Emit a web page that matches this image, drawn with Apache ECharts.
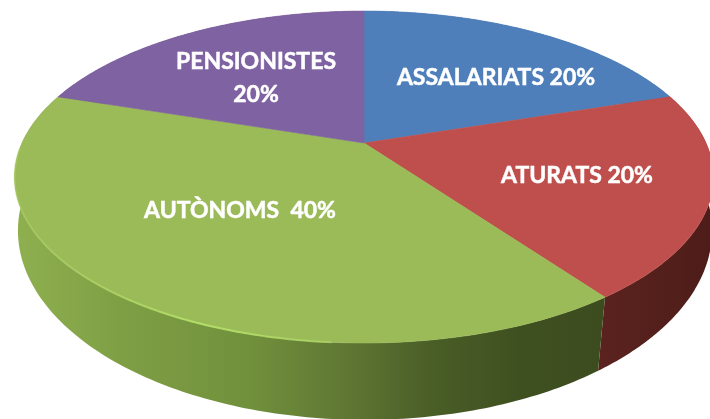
<!DOCTYPE html>
<html>
<head>
<meta charset="utf-8">
<style>html,body{margin:0;padding:0;background:#fff}#c{width:710px;height:419px}</style>
<script src="https://cdn.jsdelivr.net/npm/echarts@6/dist/echarts.min.js"></script>
</head>
<body>
<div id="c"></div>
<script>
const categories = ['ASSALARIATS', 'ATURATS', 'AUTÒNOMS', 'PENSIONISTES'];
const values = [20, 20, 40, 20];
const labelTexts = ['ASSALARIATS 20%', 'ATURATS 20%', 'AUTÒNOMS  40%', 'PENSIONISTES\n20%'];

const topColors = ['#4f7fbb', '#bf4f4c', '#9bbb59', '#7f62a1'];
const labelAt = [[496, 78], [577, 176], [240, 211], [256, 78]];
const top3d = { cx: 364, cy: 143, a: 342, b: 159, k: 0.205 };
const base3d = { cx: 365, cy: 198.5, a: 342, b: 183.7, k: 0.17 };

const total = values.reduce((s, v) => s + v, 0);
const starts = [];
values.reduce((s, v, i) => { starts[i] = s; return s + v; }, 0);

function project(g, frac) {
  const t = frac * 2 * Math.PI, X = Math.sin(t), Y = Math.cos(t), w = 1 + g.k * Y;
  return [g.cx + g.a * X / w, g.cy - g.b * Y / w];
}
function arc(g, from, to) {
  const pts = [], n = 160;
  for (let i = 0; i <= n; i++) pts.push(project(g, from + (to - from) * i / n));
  return pts;
}
const grad = stops => new echarts.graphic.LinearGradient(0, 0, 710, 0,
  stops.map(s => ({ offset: s[0] / 710, color: s[1] })), true);
const wallFills = [
  '#365f91',
  grad([[590, '#5c231f'], [710, '#4e1d19']]),
  grad([[15, '#8fb04f'], [120, '#7f9f45'], [250, '#71903c'], [350, '#5f7633'], [430, '#4a5e27'], [520, '#3f5020'], [605, '#3c4c1f']]),
  '#5f497a'
];

function renderWall(params, api) {
  const i = params.dataIndex;
  const from = starts[i] / total, to = (starts[i] + values[i]) / total;
  const poly = arc(top3d, from, to).concat(arc(base3d, from, to).reverse()).map(p => api.coord(p));
  return { type: 'polygon', shape: { points: poly }, style: { fill: wallFills[i], stroke: null } };
}
function renderTop(params, api) {
  const i = params.dataIndex;
  const from = starts[i] / total, to = (starts[i] + values[i]) / total;
  const poly = [[top3d.cx, top3d.cy]].concat(arc(top3d, from, to)).map(p => api.coord(p));
  const children = [{ type: 'polygon', shape: { points: poly }, style: { fill: topColors[i], stroke: topColors[i], lineWidth: 0.6 } }];
  if (categories[i] === 'AUTÒNOMS') {
    // soft bevel along the front rim of the green slice
    children.push({
      type: 'polyline',
      shape: { points: arc(top3d, from + (to - from) * 0.28, to - (to - from) * 0.14).map(p => api.coord(p)) },
      style: {
        fill: null, lineWidth: 2,
        stroke: new echarts.graphic.LinearGradient(0, 0, 710, 0, [
          { offset: 15 / 710, color: 'rgba(178,216,104,0.3)' },
          { offset: 200 / 710, color: 'rgba(178,222,104,1)' },
          { offset: 330 / 710, color: 'rgba(178,216,104,0.7)' },
          { offset: 420 / 710, color: 'rgba(178,216,104,0)' }
        ], true)
      }
    });
  }
  return { type: 'group', children };
}
function renderLabel(params, api) {
  const i = params.dataIndex, p = api.coord(labelAt[i]);
  return {
    type: 'text', x: p[0], y: p[1],
    style: {
      text: labelTexts[i], fill: '#fff', align: 'center', verticalAlign: 'middle',
      font: 'bold 23px Lato, "Open Sans", sans-serif', lineHeight: 33,
      stroke: '#fff', lineWidth: 0.5
    }
  };
}

const chart = echarts.init(document.getElementById('c'), null, { renderer: 'canvas' });
const rows = categories.map((c, i) => ({ name: c, value: [i, values[i]] }));
const common = { type: 'custom', coordinateSystem: 'cartesian2d', silent: true, animation: false, clip: false, data: rows };
chart.setOption({
  backgroundColor: '#fff',
  animation: false,
  grid: { left: 0, right: 0, top: 0, bottom: 0 },
  xAxis: { type: 'value', min: 0, max: 710, show: false },
  yAxis: { type: 'value', min: 0, max: 419, inverse: true, show: false },
  series: [
    Object.assign({ name: 'wall', renderItem: renderWall, z: 1 }, common),
    Object.assign({ name: 'top', renderItem: renderTop, z: 2 }, common),
    Object.assign({ name: 'labels', renderItem: renderLabel, z: 3 }, common)
  ]
});
</script>
</body>
</html>
